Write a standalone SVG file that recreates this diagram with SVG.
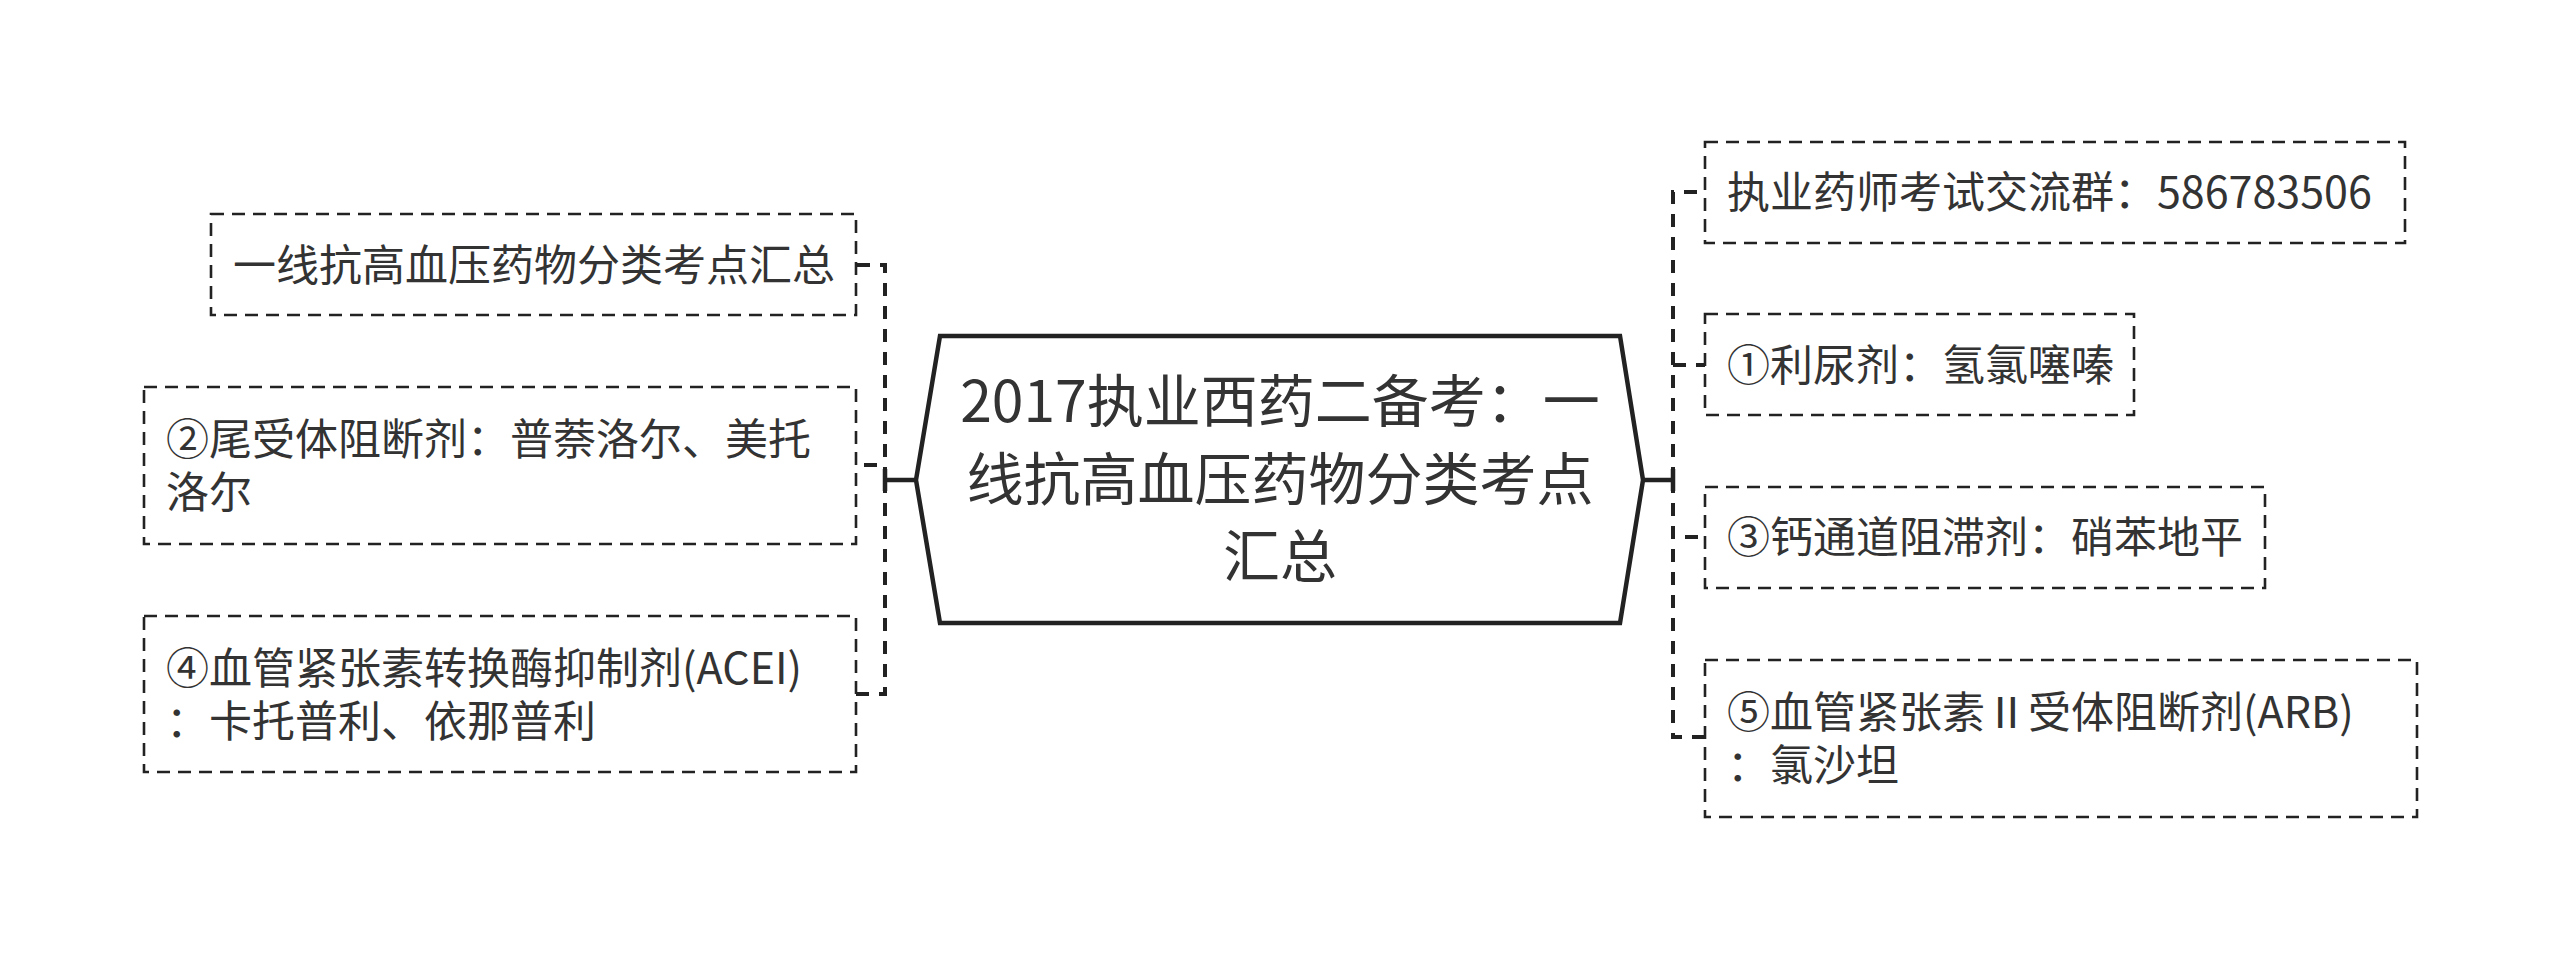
<svg xmlns="http://www.w3.org/2000/svg" width="2560" height="960" viewBox="0 0 2560 960">
<style>
text{font-family:"Noto Sans CJK SC","Noto Sans",sans-serif;fill:#333}
.t{font-size:43px}
.c{font-size:57px;text-anchor:middle}
.box{fill:#fff;stroke:#222;stroke-width:2.6;stroke-dasharray:13 8}
.hex{fill:#fff;stroke:#222;stroke-width:4.5;stroke-linejoin:miter}
.solid{fill:none;stroke:#222;stroke-width:4.5}
.dash{fill:none;stroke:#222;stroke-width:4;stroke-dasharray:13 10}
</style>
<rect width="2560" height="960" fill="#fff"/>
<g id="connectors">
<path class="solid" d="M917,480 H885 M885,469 V491"/>
<path class="dash" d="M885,480 V265 H856"/>
<path class="dash" d="M885,480 V465 H856"/>
<path class="dash" d="M885,480 V694 H856"/>
<path class="solid" d="M1643,480 H1673 M1673,469 V491"/>
<path class="dash" d="M1673,480 V192 H1705"/>
<path class="dash" d="M1673,480 V365 H1705"/>
<path class="dash" d="M1673,480 V537 H1705"/>
<path class="dash" d="M1673,480 V737 H1705"/>
</g>
<g id="center">
<path class="hex" d="M940,336 H1620 L1643,480 L1620,623 H940 L916,480 Z"/>
<text class="c" x="1280" y="422">2017执业西药二备考：一</text>
<text class="c" x="1280" y="500">线抗高血压药物分类考点</text>
<text class="c" x="1280" y="577">汇总</text>
</g>
<g id="left1">
<rect class="box" x="211" y="214" width="645" height="101"/>
<text class="t" x="233" y="281">一线抗高血压药物分类考点汇总</text>
</g>
<g id="left2">
<rect class="box" x="144" y="387" width="712" height="157"/>
<text class="t" x="166" y="455">②尾受体阻断剂：普萘洛尔、美托</text>
<text class="t" x="166" y="508">洛尔</text>
</g>
<g id="left3">
<rect class="box" x="144" y="616" width="712" height="156"/>
<text class="t" x="166" y="684">④血管紧张素转换酶抑制剂(ACEI)</text>
<text class="t" x="166" y="737">：卡托普利、依那普利</text>
</g>
<g id="right1">
<rect class="box" x="1705" y="142" width="700" height="101"/>
<text class="t" x="1727" y="208">执业药师考试交流群：586783506</text>
</g>
<g id="right2">
<rect class="box" x="1705" y="314" width="429" height="101"/>
<text class="t" x="1727" y="381">①利尿剂：氢氯噻嗪</text>
</g>
<g id="right3">
<rect class="box" x="1705" y="487" width="560" height="101"/>
<text class="t" x="1727" y="553">③钙通道阻滞剂：硝苯地平</text>
</g>
<g id="right4">
<rect class="box" x="1705" y="660" width="712" height="157"/>
<text class="t" x="1727" y="728">⑤血管紧张素Ⅱ受体阻断剂(ARB)</text>
<text class="t" x="1727" y="781">：氯沙坦</text>
</g>
</svg>
